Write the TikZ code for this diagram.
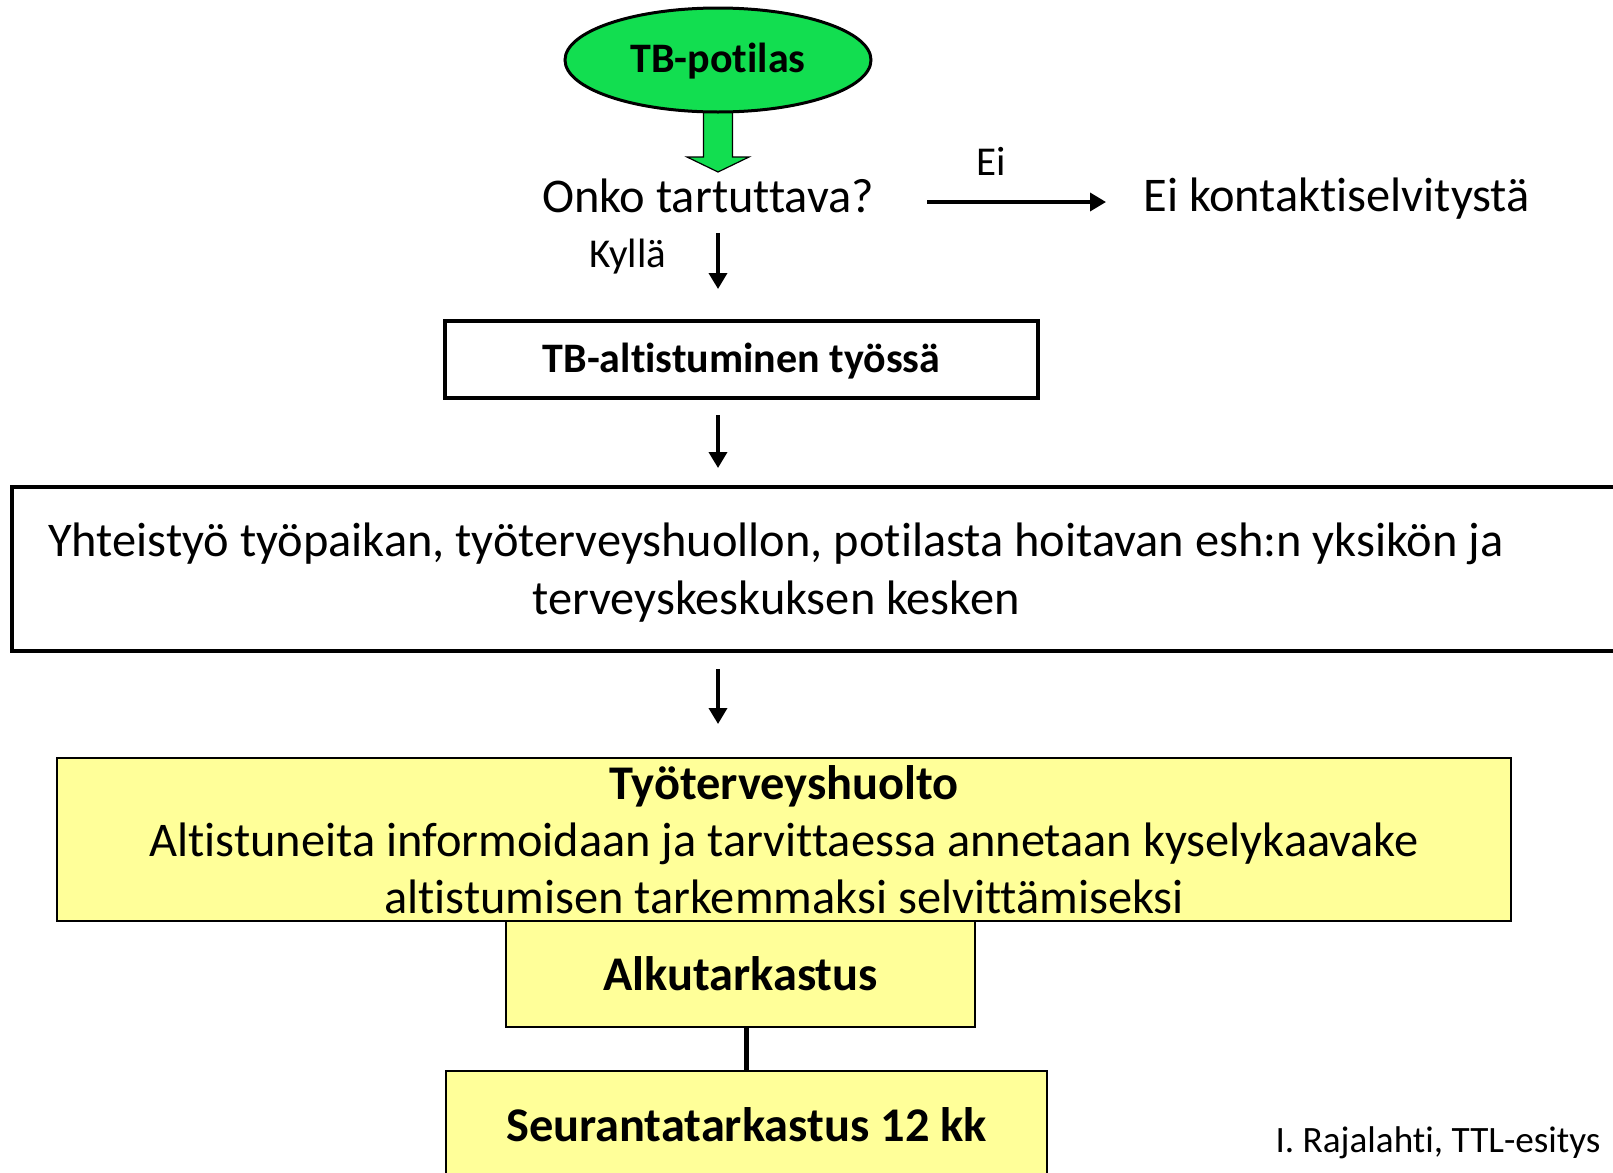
\documentclass[tikz,border=0pt]{standalone}
\usepackage{fontspec}
\setmainfont{Carlito}[Ligatures={NoCommon}]
\usetikzlibrary{shapes.geometric, arrows.meta, calc, positioning}

\definecolor{potgreen}{RGB}{18,222,80}
\definecolor{paleyellow}{RGB}{255,255,153}

\begin{document}
\begin{tikzpicture}[x=0.5pt, y=-0.5pt]

        % Setup the styles
        \tikzset{big text/.style={font=\fontsize{24.2}{28.6}\selectfont},
                 big bold/.style={font=\fontsize{24.2}{28.6}\selectfont\bfseries},
                 bold text/.style={font=\fontsize{21}{25}\selectfont\bfseries},
                 small text/.style={font=\fontsize{20.5}{24}\selectfont},
                 plain/.style={inner sep=0pt},
                 whitebox/.style={draw, line width=2pt, fill=white, inner sep=0pt},
                 yellowbox/.style={draw, line width=1pt, fill=paleyellow,
                                   inner sep=0pt, align=center},
                 greenoval/.style={draw, ellipse, line width=1.5pt, fill=potgreen,
                                   bold text, minimum width=153pt,
                                   minimum height=52pt, inner sep=0pt},
                 flow/.style={line width=1.8pt,
                              -{Triangle[length=8pt, width=9pt]}}}

        \clip (0, 0) rectangle (1613, 1173);
        \fill[white] (0, 0) rectangle (1613, 1173);

        % Draw the nodes
        \coordinate (potc) at (718, 60);
        \node[plain, big text, anchor=base]
                            at (708, 212)      (onko)      {Onko tartuttava?};
        \node[plain, big text, anchor=base west]
                            at (1143, 211)     (eikont)    {Ei kontaktiselvitystä};
        \node[whitebox, bold text, minimum width=296.5pt, minimum height=38.5pt,
              text depth=2pt]
                            at (741.5, 359.5)  (altist)    {TB-altistuminen työssä};
        \node[whitebox, minimum width=814pt, minimum height=82pt]
                            at (826, 569)      (yhteis)    {};
        \node[plain, big text, anchor=base, align=center]
                            at (776, 614)      (yhteistxt)
            {Yhteistyö työpaikan, työterveyshuollon, potilasta hoitavan esh:n yksikön ja\\
             terveyskeskuksen kesken};
        \node[yellowbox, big text, minimum width=727pt, minimum height=81.5pt]
                            at (784, 839.5)    (tyoterv)
            {\textbf{Työterveyshuolto}\\
             Altistuneita informoidaan ja tarvittaessa annetaan kyselykaavake\\
             altistumisen tarkemmaksi selvittämiseksi};
        \node[yellowbox, big bold, minimum width=234.5pt, minimum height=53pt]
                            at (740.5, 974)    (alku)      {Alkutarkastus};
        \node[yellowbox, big bold, minimum width=300.5pt, minimum height=54pt]
                            at (746.5, 1125)   (seuranta)  {Seurantatarkastus 12 kk};
        \node[plain, font=\fontsize{18.6}{22}\selectfont, anchor=base east]
                            at (1601, 1152)    (tekija)    {I. Rajalahti, TTL-esitys};

        % Green block arrow under the patient oval
        \draw[line width=0.6pt, fill=potgreen]
            ($(potc)+(-14.5, 46)$) -- ($(potc)+(-14.5, 97)$)
            -- ($(potc)+(-31, 97)$) -- ($(potc)+(0, 112)$)
            -- ($(potc)+(31, 97)$) -- ($(potc)+(14.5, 97)$)
            -- ($(potc)+(14.5, 46)$);
        \node[greenoval, text depth=2pt] at (potc)     (potilas)   {TB-potilas};

        % Connect the nodes with arrows
        \draw[flow, shorten <=26.5pt, shorten >=18.5pt]
            ([yshift=5pt]onko.base east) -- ([yshift=5pt]onko.base east -| eikont.west)
            node[plain, small text, pos=0.435, above=12.5pt] (ei) {Ei};
        \draw[flow, shorten <=10pt, shorten >=15pt]
            (potilas.south |- onko.south) -- (potilas.south |- altist.north)
            node[plain, small text, pos=0.41, left=25pt] (kylla) {Kyllä};
        \draw[flow, shorten <=7.5pt, shorten >=8.5pt]
            (potilas.south |- altist.south) -- (potilas.south |- yhteis.north);
        \draw[flow, shorten <=8pt, shorten >=16.5pt]
            (potilas.south |- yhteis.south) -- (potilas.south |- tyoterv.north);
        \draw[line width=2.2pt]
            (seuranta.north |- alku.south) -- (seuranta.north);
    \end{tikzpicture}
\end{document}
